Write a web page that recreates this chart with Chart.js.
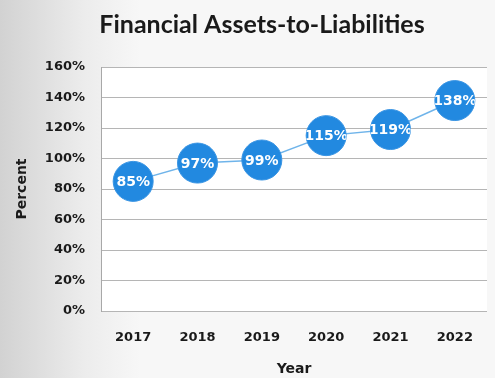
<!DOCTYPE html>
<html>
<head>
<meta charset="utf-8">
<script src="https://cdn.jsdelivr.net/npm/chart.js@4"></script>
<style>
  html, body { margin: 0; padding: 0; background: #fff; }
  #wrap { width: 495px; height: 378px; }
</style>
</head>
<body>
<div id="wrap"><canvas id="ratio-chart" width="495" height="378"></canvas></div>
<script>
const years = ['2017', '2018', '2019', '2020', '2021', '2022']
const ratios = [85, 97, 99, 115, 119, 138]
const chartTitle = 'Financial Assets-to-Liabilities'

const ctx = document.getElementById('ratio-chart')

// greyish backdrop with a white plot area, plus the heading
const backdrop = {
  id: 'backdrop',
  beforeDraw(chart) {
    const { ctx, width, height, chartArea } = chart
    ctx.save()
    const grad = ctx.createLinearGradient(0, 0, 140, 0)
    grad.addColorStop(0, '#d2d2d2')
    grad.addColorStop(0.6, '#ececec')
    grad.addColorStop(1, '#f7f7f7')
    ctx.fillStyle = grad
    ctx.fillRect(0, 0, width, height)
    ctx.fillStyle = '#ffffff'
    ctx.fillRect(chartArea.left, chartArea.top, chartArea.right - chartArea.left, chartArea.bottom - chartArea.top)
    ctx.fillStyle = '#1a1a1a'
    ctx.font = "bold 25px 'Lato', sans-serif"
    ctx.textAlign = 'center'
    ctx.textBaseline = 'middle'
    ctx.fillText(chartTitle, 262, 25)
    ctx.restore()
  }
}

// value labels written inside each bubble
const bubbleLabels = {
  id: 'bubbleLabels',
  afterDatasetsDraw(chart) {
    const { ctx } = chart
    const meta = chart.getDatasetMeta(0)
    meta.data.forEach((pt, i) => {
      const r = pt.options.radius
      ctx.save()
      ctx.beginPath()
      ctx.arc(pt.x, pt.y, r, 0, Math.PI * 2)
      ctx.clip()
      ctx.fillStyle = '#ffffff'
      ctx.font = "bold 14px 'DejaVu Sans', sans-serif"
      ctx.textAlign = 'center'
      ctx.textBaseline = 'middle'
      ctx.fillText(ratios[i] + '%', pt.x, pt.y + 1)
      ctx.restore()
    })
  }
}

new Chart(ctx, {
  type: 'line',
  data: {
    labels: years,
    datasets: [{
      label: 'Ratio',
      data: ratios,
      borderColor: '#6fb4ea',
      borderWidth: 1.5,
      pointRadius: 20,
      pointHoverRadius: 20,
      pointBackgroundColor: '#2289e0',
      pointBorderColor: '#3a95e4',
      pointBorderWidth: 1,
      tension: 0,
      clip: false
    }]
  },
  options: {
    responsive: false,
    animation: false,
    layout: { autoPadding: false, padding: { top: 67, right: 8, left: 0, bottom: 0 } },
    plugins: {
      legend: { display: false },
      tooltip: { enabled: false },
      title: { display: false }
    },
    scales: {
      x: {
        offset: true,
        grid: { display: false },
        border: { display: false },
        ticks: {
          color: '#1a1a1a',
          padding: 11,
          font: { family: "'DejaVu Sans', sans-serif", size: 13, weight: 'bold' }
        },
        title: {
          display: true,
          text: 'Year',
          color: '#1a1a1a',
          padding: { top: 14, bottom: 0 },
          font: { family: "'DejaVu Sans', sans-serif", size: 14, weight: 'bold' }
        },
        afterFit: (scale) => { scale.height = 67 }
      },
      y: {
        min: 0,
        max: 160,
        ticks: {
          stepSize: 20,
          color: '#1a1a1a',
          padding: 16,
          callback: (v) => v + '%',
          font: { family: "'DejaVu Sans', sans-serif", size: 13, weight: 'bold' }
        },
        grid: { color: '#b5b5b5', lineWidth: 1, drawTicks: false },
        border: { display: true, color: '#a8a8a8', width: 1 },
        title: {
          display: true,
          text: 'Percent',
          color: '#1a1a1a',
          padding: { top: 14, bottom: 0 },
          font: { family: "'DejaVu Sans', sans-serif", size: 14, weight: 'bold' }
        },
        afterFit: (scale) => { scale.width = 101 }
      }
    }
  },
  plugins: [backdrop, bubbleLabels]
})
</script>
</body>
</html>
